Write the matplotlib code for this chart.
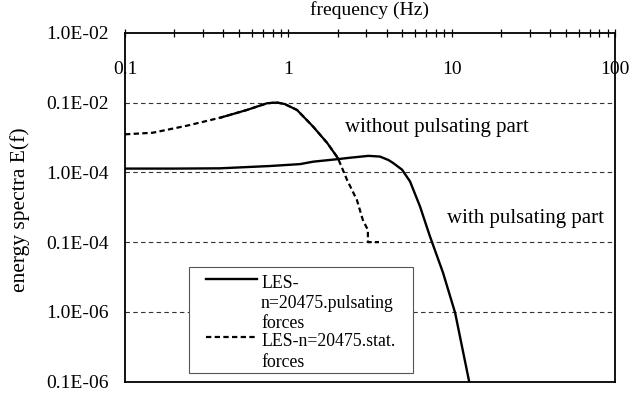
import matplotlib
matplotlib.use("Agg")
import matplotlib.pyplot as plt
from matplotlib.patches import Rectangle
import numpy as np

plt.rcParams['font.family'] = ['Liberation Serif', 'DejaVu Serif']

# ---- data ----
x_pulsating = [0.1, 0.2, 0.38, 0.77, 1.18, 1.42, 1.99, 2.4, 3.1, 3.64, 4.1, 4.38,
               4.97, 5.56, 6.4, 7.36, 8.85, 10.5, 12.8]
E_pulsating = [1.13e-4, 1.13e-4, 1.14e-4, 1.23e-4, 1.31e-4, 1.42e-4, 1.54e-4, 1.62e-4,
               1.72e-4, 1.68e-4, 1.5e-4, 1.36e-4, 1.09e-4, 7.4e-5, 3.24e-5, 1.21e-5,
               3.65e-6, 9.7e-7, 1.0e-7]

x_stat = [0.1, 0.148, 0.24, 0.382, 0.558, 0.74, 0.85, 0.95, 1.13, 1.42, 1.73, 2.01,
          2.29, 2.63, 2.86, 3.07, 3.07, 3.59]
E_stat = [3.5e-4, 3.69e-4, 4.66e-4, 6.05e-4, 7.82e-4, 9.75e-4, 1.0e-3, 9.5e-4, 7.82e-4,
          4.5e-4, 2.63e-4, 1.6e-4, 7.76e-5, 4.0e-5, 2.07e-5, 1.49e-5, 1.0e-5, 1.0e-5]

x_ticks = [0.1, 1, 10, 100]
x_ticklabels = ["0.1", "1", "10", "100"]
y_ticks = [1e-2, 1e-3, 1e-4, 1e-5, 1e-6, 1e-7]
y_ticklabels = ["1.0E-02", "0.1E-02", "1.0E-04", "0.1E-04", "1.0E-06", "0.1E-06"]
legend_pulsating = ["LES-", "n=20475.pulsating", "forces"]
legend_stat = ["LES-n=20475.stat.", "forces"]

FS_TICK = 14
FS_XLAB = 14
FS_YLAB = 15.5
FS_ANN = 15
FS_LEG = 12.8

W, H = 632, 396
AX_L, AX_R, AX_T, AX_B = 125, 615, 32.7, 381.7
AW, AH = AX_R - AX_L, AX_B - AX_T


def ax_x(px):
    return (px - AX_L) / AW


def ax_y(py):
    return (AX_B - py) / AH


fig = plt.figure(figsize=(W/100, H/100), dpi=100)
ax = fig.add_axes([AX_L/W, (H-AX_B)/H, AW/W, AH/H])
ax.set_xscale('log')
ax.set_yscale('log')
ax.set_xlim(0.1, 100)
ax.set_ylim(1e-7, 1e-2)

# grid lines at inner decades
for yv in y_ticks[1:-1]:
    ax.axhline(yv, color='#333333', lw=0.8, dashes=(4, 3), zorder=1)

# curves
ax.plot(x_pulsating, E_pulsating, color='black', lw=1.7, zorder=3)
ax.plot(x_stat, E_stat, color='black', lw=1.6, dashes=(2.4, 1.5), zorder=3)
xs = np.array(x_stat); es = np.array(E_stat)
mid = (xs >= 0.3) & (xs <= 2.01)
ax.plot(xs[mid], es[mid], color='black', lw=1.6, zorder=3)

# ticks
ax.set_yticks(y_ticks)
ax.set_yticklabels(y_ticklabels, fontsize=FS_TICK)
ax.yaxis.set_minor_locator(matplotlib.ticker.NullLocator())
ax.tick_params(axis='y', length=0, pad=11.5)

ax.set_xticks(x_ticks)
ax.set_xticklabels(x_ticklabels, fontsize=FS_TICK)
ax.xaxis.set_minor_locator(matplotlib.ticker.LogLocator(base=10, subs=np.arange(2, 10)))
ax.xaxis.set_minor_formatter(matplotlib.ticker.NullFormatter())
ax.tick_params(axis='x', which='both', top=True, bottom=False, labeltop=True,
               labelbottom=False, direction='inout', length=6, width=0.9)
ax.tick_params(axis='x', which='major', pad=-35.8)

for s in ax.spines.values():
    s.set_linewidth(1.3)
    s.set_color('black')

ax.set_xlabel('frequency (Hz)', fontsize=FS_XLAB)
ax.xaxis.set_label_position('top')
ax.xaxis.set_label_coords(0.5, ax_y(15.0))
ax.xaxis.label.set_va('baseline')
ax.set_ylabel('energy spectra E(f)', fontsize=FS_YLAB)
ax.yaxis.set_label_coords(ax_x(20), ax_y(210))
ax.yaxis.label.set_va('center')

# annotations
ax.text(ax_x(345), ax_y(131.7), 'without pulsating part', transform=ax.transAxes,
        fontsize=FS_ANN, va='baseline', ha='left')
ax.text(ax_x(447), ax_y(223.3), 'with pulsating part', transform=ax.transAxes,
        fontsize=FS_ANN, va='baseline', ha='left')

# legend box (manual, Excel-like layout)
ax.add_patch(Rectangle((ax_x(189), ax_y(372.7)), ax_x(413) - ax_x(189),
                       ax_y(266.7) - ax_y(372.7), transform=ax.transAxes,
                       facecolor='white', edgecolor='#555555', lw=0.8, zorder=4))
ax.plot([ax_x(206), ax_x(257)], [ax_y(279.3)] * 2, transform=ax.transAxes,
        color='black', lw=1.7, zorder=5)
ax.plot([ax_x(206), ax_x(257)], [ax_y(337.3)] * 2, transform=ax.transAxes,
        color='black', lw=1.6, dashes=(2.4, 1.5), zorder=5)
for t, base in zip(legend_pulsating, [288.0, 308.0, 327.5]):
    ax.text(ax_x(261), ax_y(base), t, transform=ax.transAxes, fontsize=FS_LEG,
            va='baseline', ha='left', zorder=6)
for t, base in zip(legend_stat, [346.0, 367.0]):
    ax.text(ax_x(261), ax_y(base), t, transform=ax.transAxes, fontsize=FS_LEG,
            va='baseline', ha='left', zorder=6)

fig.savefig('out.png', dpi=100)
